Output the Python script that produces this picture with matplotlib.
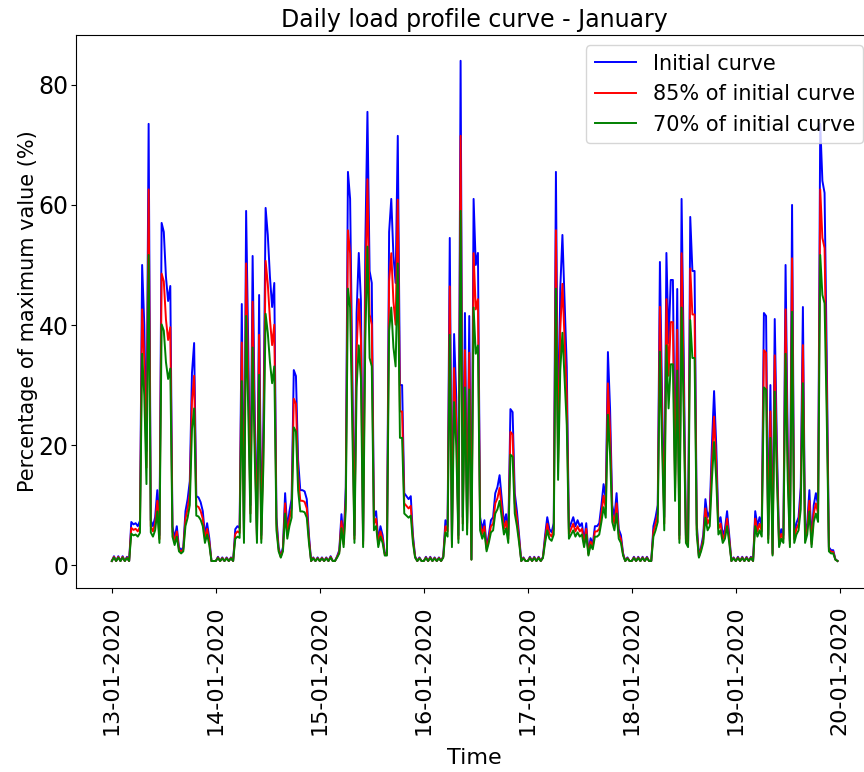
import numpy as np
import pandas as pd
import matplotlib
matplotlib.use('Agg')
from matplotlib import pyplot as plt
import matplotlib.dates as mdates

# initial curve, half-hourly values (% of max), one list per day
day_13 = [0.7, 1.5, 0.7, 1.5, 0.7, 1.5, 0.7, 1.4, 0.7, 7.2, 6.8, 7.0,
          6.5, 7.4, 50, 40, 19, 73.5, 7.5, 6.5, 8.0, 12.5, 5.0, 57,
          55.5, 48, 44, 46.5, 6.5, 4.5, 6.5, 3.0, 2.5, 3.0, 9.0, 11,
          14, 32, 37, 11.5, 11.3, 10.5, 9.0, 5.0, 7.0, 4.5, 0.7, 0.7]
day_14 = [0.7, 1.4, 0.7, 1.3, 0.7, 1.3, 0.7, 1.3, 0.7, 6.0, 6.5, 6.2,
          43.5, 5.0, 59, 36, 10, 51.5, 25, 5, 45, 5, 24, 59.5,
          55, 48, 43, 47, 8, 3, 1.5, 3, 12, 6, 9, 11,
          32.5, 31.5, 17.5, 12.5, 12.5, 12.3, 11, 5, 0.7, 1.3, 0.7, 1.3]
day_15 = [0.7, 1.3, 0.7, 1.3, 0.7, 1.5, 0.7, 0.7, 1.5, 2.5, 8.5, 4,
          13, 65.5, 61, 33, 5, 42, 52, 44, 4, 53, 75.5, 49,
          47, 8, 9, 4, 6.5, 5, 2, 2, 55.5, 61, 51.5, 47,
          71.5, 30, 30, 12, 11.5, 11, 11.5, 5, 1.5, 0.7, 1.3, 0.7]
day_16 = [0.7, 1.4, 0.7, 1.4, 0.7, 1.3, 0.7, 1.3, 0.7, 1.5, 7.5, 6.5,
          54.5, 4, 38.5, 28, 5, 84, 8, 42, 7, 41.5, 1, 61,
          50, 52, 8, 6, 7.5, 3, 5, 7.5, 8, 12, 13, 15,
          11, 7, 8.5, 5, 26, 25.5, 12, 9, 5, 0.7, 1.3, 0.7]
day_17 = [0.7, 1.4, 0.7, 1.4, 0.7, 1.4, 0.7, 1.4, 5, 8, 6, 5.5,
          7, 65.5, 20, 46, 55, 44, 33, 6, 7, 8, 6.5, 7.5,
          6.5, 7, 4, 7, 2, 4.5, 3.5, 6.5, 6.5, 7, 10, 13.5,
          11, 35.5, 26, 10, 8, 12, 6, 5, 2, 0.7, 1.3, 0.7]
day_18 = [0.7, 1.4, 0.7, 1.4, 0.7, 1.4, 0.7, 1.4, 0.7, 0.7, 6.5, 8,
          10, 50.5, 28, 8, 52, 37, 47.5, 47.5, 15, 46, 5, 61,
          35, 5, 4, 58, 49, 49, 7, 1.5, 3, 5, 11, 8,
          9, 20, 29, 20, 7, 8, 5, 6, 9, 5, 0.7, 1.3]
day_19 = [0.7, 1.4, 0.7, 1.4, 0.7, 1.4, 0.7, 1.4, 0.7, 9, 6.5, 8,
          6.5, 42, 41.5, 5, 30, 2, 41, 20, 4, 6, 5, 50,
          20, 4, 60, 5, 7, 8, 13, 43, 5, 7, 12.5, 4,
          10, 12, 10, 73.5, 64, 62, 35, 3, 2.5, 2.5, 1, 0.7]

initial = np.array(day_13 + day_14 + day_15 + day_16 + day_17 + day_18 + day_19)
times = pd.date_range('2020-01-13 00:00', periods=len(initial), freq='30min')

labels = ['Initial curve', '85% of initial curve', '70% of initial curve']
shares = [1.0, 0.85, 0.70]
colors = ['blue', 'red', 'green']
base_load = 0.7  # night load is not reduced

fig = plt.figure(figsize=(8.64, 7.72), dpi=100)
ax = fig.add_axes([0.0874, 0.2383, 0.924, 0.7164])

for lab, share, col in zip(labels, shares, colors):
    curve = base_load + (initial - base_load) * share
    ax.plot(times, curve, color=col, label=lab, linewidth=1.4)

ax.set_ylim(-3.8, 88.3)
ax.xaxis.set_major_locator(mdates.DayLocator())
ax.xaxis.set_major_formatter(mdates.DateFormatter('%d-%m-%Y'))
ax.tick_params(axis='x', labelsize=16, rotation=90, pad=9)
ax.tick_params(axis='y', labelsize=17, pad=1.5)
ax.set_title('Daily load profile curve - January', fontsize=17)
ax.set_xlabel('Time', fontsize=16, labelpad=9)
ax.set_ylabel('Percentage of maximum value (%)', fontsize=15, labelpad=0)
ax.legend(loc='upper right', fontsize=15)

plt.savefig('out.png', dpi=100)
